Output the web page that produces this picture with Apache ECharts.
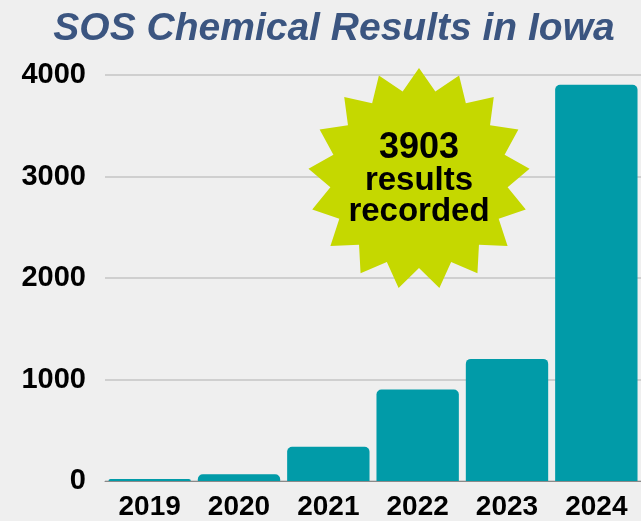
<!DOCTYPE html>
<html>
<head>
<meta charset="utf-8">
<script src="https://cdn.jsdelivr.net/npm/echarts@6/dist/echarts.min.js"></script>
<style>
  html, body { margin: 0; padding: 0; background: #efefef; }
  #chart { width: 641px; height: 521px; }
</style>
</head>
<body>
<div id="chart"></div>
<script>
// data
const years = ['2019', '2020', '2021', '2022', '2023', '2024']
const results = [20, 66, 337, 902, 1203, 3903]
const yTicks = [0, 1000, 2000, 3000, 4000]
const badgeLines = ['3903', 'results', 'recorded']

const font = '"Liberation Sans", Arial, sans-serif'

// starburst outline (17 points) around the badge centre
function starPoints(cx, cy, rOut, rIn, n) {
  let pts = []
  for (let i = 0; i < n * 2; i++) {
    let r = i % 2 === 0 ? rOut : rIn
    let a = -Math.PI / 2 + i * Math.PI / n
    pts.push([cx + r * Math.cos(a), cy + r * Math.sin(a)])
  }
  return pts
}

const chart = echarts.init(document.getElementById('chart'))

chart.setOption({
  backgroundColor: '#efefef',
  animation: false,
  title: {
    text: 'SOS Chemical Results in Iowa',
    left: 329,
    top: 5,
    textAlign: 'center',
    textStyle: {
      fontFamily: font,
      fontSize: 39,
      fontWeight: 'bold',
      fontStyle: 'italic',
      color: '#3b5580'
    }
  },
  grid: {
    left: 105,
    top: 75,
    width: 540,
    height: 406
  },
  xAxis: {
    type: 'category',
    data: years,
    axisTick: {show: false},
    axisLine: {lineStyle: {color: '#8a8a8a', width: 1}},
    axisLabel: {
      margin: 12,
      color: '#000',
      fontFamily: font,
      fontSize: 28,
      fontWeight: 'bold'
    }
  },
  yAxis: {
    type: 'value',
    min: yTicks[0],
    max: yTicks[yTicks.length - 1],
    interval: 1000,
    axisLine: {show: false},
    axisTick: {show: false},
    splitLine: {lineStyle: {color: '#c4c4c4', width: 1.5}},
    axisLabel: {
      margin: 19,
      color: '#000',
      fontFamily: font,
      fontSize: 29,
      fontWeight: 'bold',
      formatter: v => String(v)
    }
  },
  series: [{
    type: 'bar',
    data: results,
    barCategoryGap: '7.8%',
    itemStyle: {color: '#019ba8', borderRadius: [5, 5, 0, 0]}
  }],
  graphic: [
    {
      type: 'polygon',
      shape: {points: starPoints(419, 179, 111, 89, 17)},
      style: {fill: '#c5d800'},
      z: 100
    },
    {
      type: 'text',
      x: 419, y: 148,
      style: {
        text: badgeLines[0], textAlign: 'center', textVerticalAlign: 'middle',
        font: 'bold 36px ' + font, fill: '#000'
      },
      z: 101
    },
    {
      type: 'text',
      x: 419, y: 181,
      style: {
        text: badgeLines[1], textAlign: 'center', textVerticalAlign: 'middle',
        font: 'bold 33px ' + font, fill: '#000'
      },
      z: 101
    },
    {
      type: 'text',
      x: 419, y: 212,
      style: {
        text: badgeLines[2], textAlign: 'center', textVerticalAlign: 'middle',
        font: 'bold 33px ' + font, fill: '#000'
      },
      z: 101
    }
  ]
})
</script>
</body>
</html>
